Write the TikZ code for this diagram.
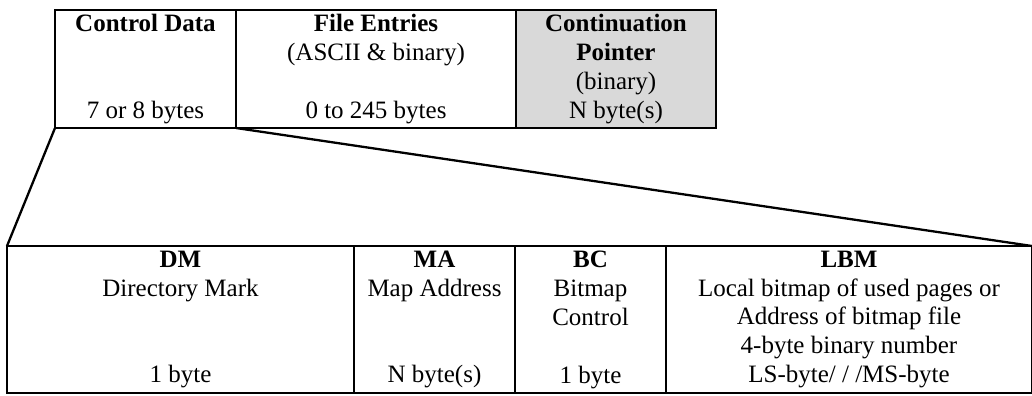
\documentclass[tikz,border=0pt]{standalone}
\usepackage{fontspec}
\setmainfont{Liberation Serif}
\usepackage{tikz}
\usetikzlibrary{positioning}
\tikzset{cell/.style={draw, line width=0.6pt, inner sep=0pt, outer sep=0pt, align=center,
  font=\fontsize{12}{13.9}\selectfont, anchor=north west}}
\tikzset{toprow/.style={cell, minimum height=118*0.48pt, minimum width=#1*0.48pt}}
\tikzset{botrow/.style={cell, minimum height=147*0.48pt, minimum width=#1*0.48pt}}
\tikzset{zoomline/.style={line width=1.1pt}}

\begin{document}
\begin{tikzpicture}[x=0.48pt, y=-0.48pt]
\useasboundingbox (0,0) rectangle (1032,395);
% record layout
\node[toprow=181] (ctrl) at (55,10) {\textbf{Control Data}\\~\\~\\7 or 8 bytes};
\node[toprow=280, right=0pt of ctrl] (entries) {\textbf{File Entries}\\(ASCII \& binary)\\~\\0 to 245 bytes};
\node[toprow=200, right=0pt of entries, fill=black!15] (cont) {\textbf{Continuation}\\\textbf{Pointer}\\(binary)\\N byte(s)};
% control data in detail
\node[botrow=347] (dm) at (7,246) {\textbf{DM}\\Directory Mark\\~\\~\\1 byte};
\node[botrow=161, right=0pt of dm] (ma) {\textbf{MA}\\Map Address\\~\\~\\N byte(s)};
\node[botrow=151, right=0pt of ma] (bc) {\textbf{BC}\\Bitmap\\Control\\~\\1 byte};
\node[botrow=366, right=0pt of bc] (lbm) {\textbf{LBM}\\Local bitmap of used pages or\\Address of bitmap file\\4-byte binary number\\LS-byte/ / /MS-byte};
\draw[zoomline] (ctrl.south west) -- (cont.south east);
\draw[zoomline] (dm.north west) -- (lbm.north east);
\draw[zoomline] (ctrl.south west) -- (dm.north west);
\draw[zoomline] (ctrl.south east) -- (lbm.north east);
\end{tikzpicture}
\end{document}
